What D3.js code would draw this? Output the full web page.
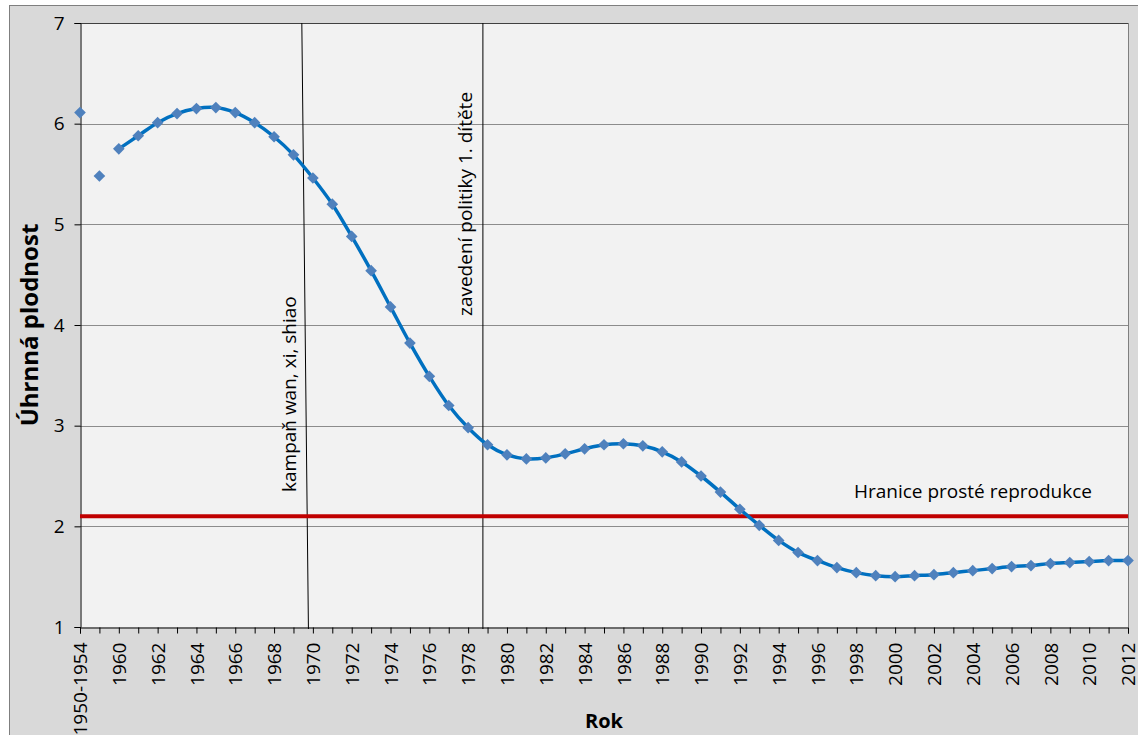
<!DOCTYPE html>
<html><head><meta charset="utf-8">
<script src="https://cdn.jsdelivr.net/npm/d3@7"></script>
<style>
html,body{margin:0;padding:0;background:#fff;}
svg{display:block;font-family:"Open Sans",sans-serif;}
</style></head>
<body>
<svg id="chart" width="1138" height="735"></svg>
<script>
// ---- data ----
const categories = ["1950-1954","1955-1959"].concat(d3.range(1960, 2013).map(String));
const fertility = [6.11, 5.48,
  5.75, 5.88, 6.01, 6.10, 6.15, 6.16, 6.11, 6.01, 5.87, 5.69,
  5.46, 5.20, 4.88, 4.54, 4.18, 3.82, 3.49, 3.20, 2.98, 2.81,
  2.71, 2.67, 2.68, 2.72, 2.77, 2.81, 2.82, 2.80, 2.74, 2.64,
  2.50, 2.34, 2.17, 2.01, 1.86, 1.74, 1.66, 1.59, 1.54, 1.51,
  1.50, 1.51, 1.52, 1.54, 1.56, 1.58, 1.60, 1.61, 1.63, 1.64,
  1.65, 1.66, 1.66];
const xTickLabels = categories.filter((c, i) => i % 2 === 0);
const yTicks = [1, 2, 3, 4, 5, 6, 7];
const replacementLevel = 2.1;
const replacementLabel = "Hranice prosté reprodukce";
const events = [
  {label: "kampaň wan, xi, shiao", yearTop: 1969.43, yearBottom: 1969.77},
  {label: "zavedení politiky 1. dítěte", yearTop: 1978.76, yearBottom: 1978.76}
];
const yTitle = "Úhrnná plodnost";
const xTitle = "Rok";

// ---- layout ----
const svg = d3.select("#chart");
const plot = {left: 80, right: 1128, top: 23, bottom: 627};

svg.append("rect").attr("x", 9.5).attr("y", 5.5).attr("width", 1200).attr("height", 800)
  .attr("fill", "#d9d9d9").attr("stroke", "#7f7f7f").attr("stroke-width", 1);

const x = d3.scalePoint().domain(categories).range([plot.left, plot.right]);
const y = d3.scaleLinear().domain([1, 7]).range([plot.bottom, plot.top]);
const xYear = d3.scaleLinear().domain([1960, 2012]).range([x("1960"), x("2012")]);

svg.append("rect").attr("x", plot.left).attr("y", plot.top)
  .attr("width", plot.right - plot.left).attr("height", plot.bottom - plot.top)
  .attr("fill", "#f2f2f2");

// gridlines
svg.append("g").selectAll("line").data(yTicks.filter(v => v > 1)).join("line")
  .attr("x1", plot.left).attr("x2", plot.right)
  .attr("y1", d => Math.round(y(d)) + 0.5).attr("y2", d => Math.round(y(d)) + 0.5)
  .attr("stroke", "#8c8c8c").attr("stroke-width", 1);

// plot borders
svg.append("line").attr("x1", plot.right + 0.5).attr("x2", plot.right + 0.5)
  .attr("y1", plot.top).attr("y2", plot.bottom).attr("stroke", "#7f7f7f");
svg.append("line").attr("x1", plot.left).attr("x2", plot.right)
  .attr("y1", plot.top + 0.5).attr("y2", plot.top + 0.5).attr("stroke", "#404040");

const tickFont = 19;

// y axis
const yAxis = svg.append("g").attr("transform", `translate(${plot.left + 0.5},0)`)
  .call(d3.axisLeft(y).tickValues(yTicks).tickSize(6).tickPadding(10).tickFormat(d3.format("d")));
yAxis.attr("font-size", tickFont).attr("font-family", "'Open Sans',sans-serif");
yAxis.select(".domain").attr("stroke", "#000");
yAxis.selectAll(".tick line").attr("stroke", "#000");
yAxis.selectAll("text").attr("font-size", tickFont).attr("fill", "#000");

// x axis
const xAxis = svg.append("g").attr("transform", `translate(0,${plot.bottom + 0.5})`)
  .call(d3.axisBottom(x).tickSize(6).tickFormat(d => xTickLabels.includes(d) ? d : ""));
xAxis.attr("font-size", tickFont).attr("font-family", "'Open Sans',sans-serif");
xAxis.select(".domain").attr("stroke", "#000");
xAxis.selectAll(".tick line").attr("stroke", "#000");
xAxis.selectAll("text").attr("font-size", tickFont).attr("fill", "#000")
  .attr("text-anchor", "end")
  .attr("transform", "rotate(-90)")
  .attr("x", -15).attr("y", 0).attr("dy", "0.35em");

// event lines
events.forEach(ev => {
  svg.append("line")
    .attr("x1", xYear(ev.yearTop)).attr("y1", plot.top)
    .attr("x2", xYear(ev.yearBottom)).attr("y2", plot.bottom + 2)
    .attr("stroke", "#000").attr("stroke-width", 1);
});
// event labels
const evLabel = [
  {ev: events[0], cx: xYear(events[0].yearTop) - 12, yStart: 492},
  {ev: events[1], cx: xYear(events[1].yearTop) - 18, yStart: 316}
];
evLabel.forEach(d => {
  svg.append("text").text(d.ev.label)
    .attr("transform", `translate(${d.cx},${d.yStart}) rotate(-90)`)
    .attr("dy", "0.35em").attr("font-size", 19).attr("fill", "#000");
});

// replacement level
svg.append("line").attr("x1", plot.left).attr("x2", plot.right)
  .attr("y1", y(replacementLevel)).attr("y2", y(replacementLevel))
  .attr("stroke", "#c00000").attr("stroke-width", 4);
svg.append("text").text(replacementLabel)
  .attr("x", 1092).attr("y", 498).attr("text-anchor", "end")
  .attr("font-size", 19).attr("fill", "#000");

// series line (from 1960 on)
const lineData = categories.map((c, i) => ({c, v: fertility[i]})).slice(2);
svg.append("path").datum(lineData)
  .attr("d", d3.line().x(d => x(d.c)).y(d => y(d.v)).curve(d3.curveCatmullRom.alpha(0.5)))
  .attr("fill", "none").attr("stroke", "#0070c0").attr("stroke-width", 3.5);

// markers
const diamond = d3.symbol().type(d3.symbolSquare).size(68);
svg.append("g").selectAll("path").data(categories.map((c, i) => ({c, v: fertility[i]}))).join("path")
  .attr("d", diamond)
  .attr("transform", d => `translate(${x(d.c)},${y(d.v)}) rotate(45)`)
  .attr("fill", "#4f81bd");

// titles
svg.append("text").text(yTitle)
  .attr("transform", `translate(38,${(plot.top + plot.bottom) / 2}) rotate(-90)`)
  .attr("text-anchor", "middle").attr("font-weight", "bold").attr("font-size", 24).attr("fill", "#000");
svg.append("text").text(xTitle)
  .attr("x", (plot.left + plot.right) / 2).attr("y", 728)
  .attr("text-anchor", "middle").attr("font-weight", "bold").attr("font-size", 20).attr("fill", "#000");
</script>
</body></html>
